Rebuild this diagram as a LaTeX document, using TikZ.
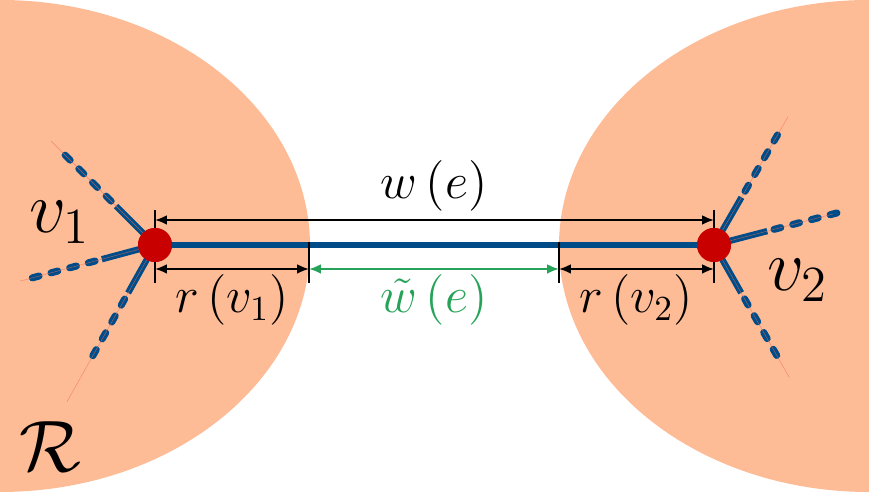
\documentclass[tikz,border=0pt]{standalone}
\usepackage{amsmath}
\usetikzlibrary{positioning, arrows.meta}

\definecolor{regionfill}{RGB}{253,187,150}
\definecolor{edgeblue}{RGB}{0,76,136}
\definecolor{vertexred}{RGB}{200,0,0}
\definecolor{trimgreen}{RGB}{38,163,88}
\definecolor{rayred}{RGB}{240,110,90}

\tikzset{
  vertex/.style={circle, fill=vertexred, inner sep=0pt, minimum size=3.4mm},
  edgeline/.style={edgeblue, line width=1.8pt},
  edgedash/.style={edgeblue, line width=2pt, dash pattern=on 2pt off 3.5pt, line cap=round},
  ray/.style={rayred, line width=0.12pt, opacity=0.7},
  tick/.style={black, line width=0.7pt},
  dimline/.style={line width=0.6pt, {Latex[length=3.4pt,width=2.8pt]}-{Latex[length=3.4pt,width=2.8pt]}},
  lbl/.style={font=\fontsize{14}{17}\selectfont, inner sep=1pt},
  biglbl/.style={font=\fontsize{21}{25}\selectfont}
}

\begin{document}
\begin{tikzpicture}
  \useasboundingbox (0,0) rectangle (8.69,4.92);
  % the two regions
  \fill[regionfill] (0,2.46) ellipse (3.1 and 2.46);
  \fill[regionfill] (8.69,2.46) ellipse (3.1 and 2.46);

  \node[vertex] (v1) at (1.55,2.47) {};
  \node[vertex] (v2) at (7.14,2.47) {};

  % branches: angle / ray
  \foreach \ang/\ray in {135/1.47, 195/1.40, 240.7/1.80}{
    \draw[edgeline] (v1.center) -- ++(\ang:0.55);
    \draw[edgedash] ([shift={(\ang:0.62)}]v1.center) -- ([shift={(\ang:1.36)}]v1.center);
    \draw[ray] (v1.center) -- ++(\ang:\ray);
  }
  \foreach \ang/\ray in {60/1.48, 14.6/1.23, -60.4/1.52}{
    \draw[edgeline] (v2.center) -- ++(\ang:0.55);
    \draw[edgedash] ([shift={(\ang:0.62)}]v2.center) -- ([shift={(\ang:1.30)}]v2.center);
    \draw[ray] (v2.center) -- ++(\ang:\ray);
  }

  % the edge e
  \draw[edgeline] (v1.center) -- (v2.center);

  % ticks
  \coordinate (t1) at (1.55,2.23);
  \coordinate (t2) at (3.09,2.23);
  \coordinate (t3) at (5.59,2.23);
  \coordinate (t4) at (7.14,2.23);
  \coordinate (u1) at (1.55,2.72);
  \coordinate (u4) at (7.14,2.72);
  \draw[tick] (1.55,2.82) -- (1.55,2.09);
  \draw[tick] (7.14,2.82) -- (7.14,2.09);
  \draw[tick] (3.09,2.50) -- (3.09,2.09);
  \draw[tick] (5.59,2.50) -- (5.59,2.09);

  \node[vertex] at (v1) {};
  \node[vertex] at (v2) {};

  % dimensions
  \draw[dimline] (u1) -- (u4);
  \draw[dimline] (t1) -- (t2);
  \draw[dimline, trimgreen] (t2) -- (t3);
  \draw[dimline] (t3) -- (t4);

  \node[lbl] (we) at (4.34,3.06) {$w\,(e)$};
  \node[lbl] (rv1) at (2.32,1.92) {$r\,(v_1)$};
  \node[lbl, text=trimgreen] (wt) at (4.34,1.92) {$\tilde{w}\,(e)$};
  \node[lbl] (rv2) at (6.36,1.92) {$r\,(v_2)$};

  \node[biglbl] (lv1) at (0.60,2.70) {$v_1$};
  \node[biglbl] (lv2) at (7.98,2.12) {$v_2$};
  \node[biglbl] (reg) at (0.50,0.45) {$\mathcal{R}$};
\end{tikzpicture}
\end{document}
